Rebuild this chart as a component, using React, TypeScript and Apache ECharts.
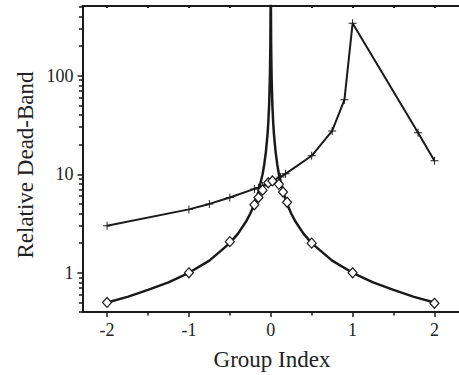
import React, { useEffect, useRef } from "react";
import * as echarts from "echarts";

// Series with "+" markers
const plusX = [-2, -1, -0.75, -0.5, -0.2, -0.15, -0.1, 0, 0.12, 0.18, 0.5, 0.75, 0.9, 1.0, 1.8, 2.0];
const plusY = [3.0, 4.4, 5.0, 5.8, 7.1, 7.3, 7.6, 8.4, 9.4, 10.1, 15.4, 27.5, 57, 340, 26.4, 13.7];

// Series with open diamond markers
const diamondX = [-2, -1, -0.5, -0.2, -0.15, -0.1, -0.03, 0.02, 0.1, 0.15, 0.2, 0.5, 1, 2];
const diamondY = [0.5, 1.0, 2.07, 4.9, 5.8, 6.9, 8.2, 8.55, 7.9, 6.6, 5.2, 2.0, 1.0, 0.49];

// Continuous curve (no markers)
const curveX = [
  -2, -1.75, -1.5, -1.25, -1, -0.75, -0.5, -0.4, -0.3, -0.25, -0.2, -0.15, -0.1, -0.08, -0.06,
  -0.04, -0.03, -0.02, -0.01, -0.005, -0.002, -0.001,
  0.001, 0.002, 0.005, 0.01, 0.02, 0.03, 0.04, 0.06, 0.08, 0.1, 0.15, 0.2, 0.25, 0.3, 0.4, 0.5,
  0.75, 1, 1.25, 1.5, 1.75, 2,
];
const curveY = [
  0.5, 0.57, 0.67, 0.8, 1.0, 1.33, 2.0, 2.5, 3.33, 4.0, 5.0, 6.67, 10, 12.5, 16.7,
  25, 33.3, 50, 100, 200, 500, 1000,
  1000, 500, 200, 100, 50, 33.3, 25, 16.7, 12.5, 10, 6.67, 5.0, 4.0, 3.33, 2.5, 2.0,
  1.33, 1.0, 0.8, 0.67, 0.57, 0.5,
];

// Ticks and labels
const xLabels = [-2, -1, 0, 1, 2];
const xMinorTicks = [-1.5, -0.5, 0.5, 1.5];
const xTopTicks = [-2, -1.5, -1, -0.5, 0, 0.5, 1, 1.5, 2];
const yLabels = [1, 10, 100];
const yMinorTicks = [0.4, 0.5, 0.6, 0.7, 0.8, 0.9, 2, 3, 4, 5, 6, 7, 8, 9, 20, 30, 40, 50, 60, 70, 80, 90, 200, 300, 400, 500];

const FONT = '"Liberation Serif", "Times New Roman", serif';
const INK = "#1a1a1a";

export default function App() {
  const ref = useRef<HTMLDivElement>(null);

  useEffect(() => {
    if (!ref.current) return;
    const chart = echarts.init(ref.current, null, { renderer: "svg" });
    const xMin = -2.3;
    const xMax = 2.3;
    const yMin = 0.4;
    const yMax = 510;

    const option: any = {
      animation: false,
      backgroundColor: "#fff",
      grid: { left: 82.5, top: 6, width: 379.5, height: 306, containLabel: false },
      xAxis: [
        {
          type: "value",
          min: xMin,
          max: xMax,
          position: "bottom",
          axisLine: { show: true, onZero: false, lineStyle: { color: INK, width: 2 } },
          axisTick: { show: true, customValues: xLabels, length: 5, lineStyle: { color: INK, width: 1.5 } },
          axisLabel: { customValues: xLabels, margin: 9, fontSize: 18, fontFamily: FONT, color: "#222" },
          splitLine: { show: false },
        },
        {
          type: "value",
          min: xMin,
          max: xMax,
          position: "bottom",
          axisLine: { show: false, onZero: false },
          axisTick: { show: true, customValues: xMinorTicks, length: 3.5, lineStyle: { color: INK, width: 1.5 } },
          axisLabel: { show: false },
          splitLine: { show: false },
        },
        {
          type: "value",
          min: xMin,
          max: xMax,
          position: "top",
          axisLine: { show: true, onZero: false, lineStyle: { color: INK, width: 2 } },
          axisTick: { show: true, inside: true, customValues: xTopTicks, length: 2, lineStyle: { color: INK, width: 2 } },
          axisLabel: { show: false },
          splitLine: { show: false },
        },
      ],
      yAxis: [
        {
          type: "log",
          logBase: 10,
          min: yMin,
          max: yMax,
          position: "left",
          axisLine: { show: true, onZero: false, lineStyle: { color: INK, width: 2 } },
          axisTick: { show: true, customValues: yLabels, length: 5, lineStyle: { color: INK, width: 1.5 } },
          axisLabel: { customValues: yLabels, margin: 9, fontSize: 18, fontFamily: FONT, color: "#222" },
          splitLine: { show: false },
        },
        {
          type: "log",
          logBase: 10,
          min: yMin,
          max: yMax,
          position: "left",
          axisLine: { show: false, onZero: false },
          axisTick: { show: true, customValues: yMinorTicks, length: 3.5, lineStyle: { color: INK, width: 1.5 } },
          axisLabel: { show: false },
          splitLine: { show: false },
        },
      ],
      series: [
        {
          name: "curve",
          type: "line",
          xAxisIndex: 0,
          yAxisIndex: 0,
          data: curveX.map((x, i) => [x, curveY[i]]),
          showSymbol: false,
          symbol: "none",
          lineStyle: { color: INK, width: 2.5 },
          z: 2,
        },
        {
          name: "plus",
          type: "line",
          xAxisIndex: 0,
          yAxisIndex: 0,
          data: plusX.map((x, i) => [x, plusY[i]]),
          symbol: "path://M4.4,0h1.2v4.4h4.4v1.2h-4.4v4.4h-1.2v-4.4h-4.4v-1.2h4.4z",
          symbolSize: 8,
          itemStyle: { color: INK },
          lineStyle: { color: INK, width: 2 },
          z: 3,
        },
        {
          name: "diamond",
          type: "scatter",
          xAxisIndex: 0,
          yAxisIndex: 0,
          data: diamondX.map((x, i) => [x, diamondY[i]]),
          symbol: "diamond",
          symbolSize: [9, 10],
          itemStyle: { color: "#fff", borderColor: INK, borderWidth: 1.2, opacity: 1 },
          z: 4,
        },
      ],
      graphic: [
        {
          type: "text",
          x: 272,
          y: 359,
          style: {
            text: "Group Index",
            align: "center",
            verticalAlign: "middle",
            fontSize: 23,
            fontFamily: FONT,
            fill: "#222",
          },
        },
        {
          type: "text",
          x: 25.5,
          y: 165,
          rotation: Math.PI / 2,
          style: {
            text: "Relative Dead-Band",
            align: "center",
            verticalAlign: "middle",
            fontSize: 23,
            fontFamily: FONT,
            fill: "#222",
          },
        },
      ],
    };

    chart.setOption(option);
    return () => {
      chart.dispose();
    };
  }, []);

  return (
    <div
      ref={ref}
      style={{ position: "fixed", left: 0, top: 0, width: 459, height: 375, background: "#fff" }}
    />
  );
}
